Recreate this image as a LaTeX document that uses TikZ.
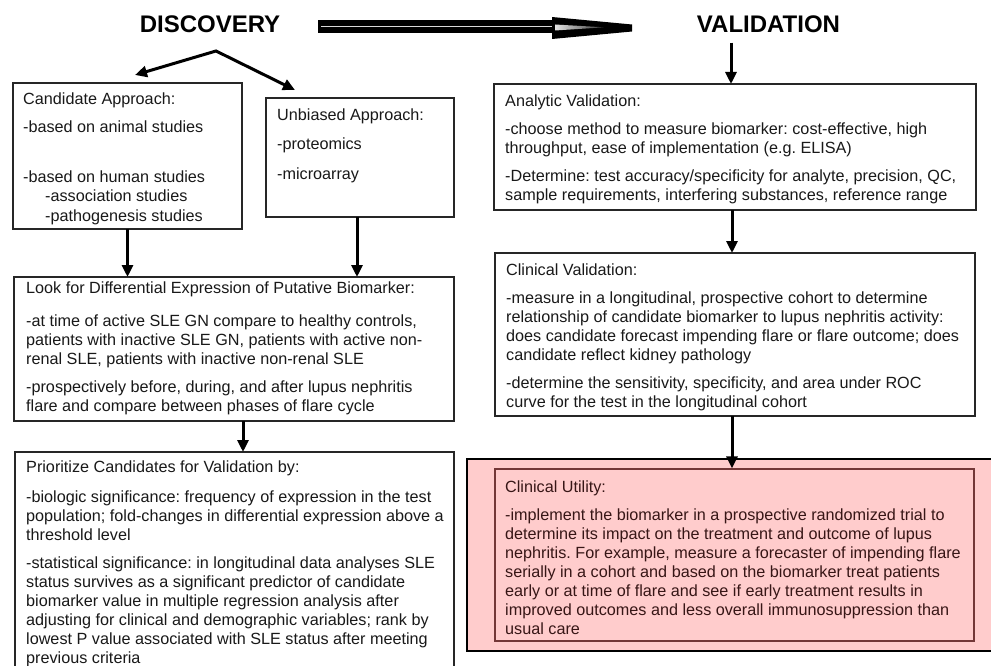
\documentclass[tikz,border=0pt]{standalone}
\usepackage{fontspec}
\setmainfont{Liberation Sans}
\usetikzlibrary{arrows.meta,calc}
\definecolor{pinkfill}{RGB}{255,204,204}
\definecolor{maroonline}{RGB}{115,55,55}
\definecolor{utiltext}{RGB}{55,22,22}
\newcommand\mystrut{\rule{0pt}{12pt}}
\frenchspacing
\begin{document}
\begin{tikzpicture}[x=1pt,y=-1pt,
  box/.style={draw=black!85,line width=1.2pt,inner sep=0pt,outer sep=0pt},
  txt/.style={anchor=north west,align=left,inner sep=0pt,text=black!90,font=\fontsize{16.2}{19}\selectfont},
  headtxt/.style={font=\fontsize{24}{28}\bfseries\selectfont,inner sep=0pt},
  conn/.style={line width=3pt,-{Triangle[length=12pt,width=11pt]}},
  dconn/.style={line width=3pt,line join=miter,{Triangle[length=12pt,width=11pt]}-{Triangle[length=12pt,width=11pt]}}]
\useasboundingbox (0,0) rectangle (991,666);
\fill[white] (0,0) rectangle (991,666);

% headings
\node[headtxt] (disc) at (210,24) {DISCOVERY};
\node[headtxt] (valid) at (768.5,24) {VALIDATION};

% big hollow arrow between headings
\fill[black] (318,20.5) rectangle (556,33.5);
\draw[gray!30,line width=1.6pt] (321,26.5) -- (556,26.5);
\fill[black] (552,17) -- (632,24.5) -- (632,31.5) -- (552,39) -- cycle;
\shade[left color=gray!20,right color=black!80] (555,24.5) -- (604,27.3) -- (555,30.5) -- cycle;

% boxes
\node[box,minimum width=229pt,minimum height=146pt] (cand) at (127.5,156) {};
\node[box,minimum width=188pt,minimum height=119pt] (unb) at (360,157.5) {};
\node[box,minimum width=440pt,minimum height=144pt] (look) at (234,349) {};
\node[box,minimum width=439pt,minimum height=222pt] (prio) at (234.5,563) {};
\node[box,minimum width=482pt,minimum height=126pt] (anal) at (735,147) {};
\node[box,minimum width=480pt,minimum height=163pt] (clin) at (735,334.5) {};
\node[draw=black,line width=1.8pt,fill=pinkfill,inner sep=0pt,minimum width=528pt,minimum height=192pt] (utilout) at (731,555) {};
\node[draw=maroonline,line width=1.3pt,inner sep=0pt,minimum width=479pt,minimum height=172pt] (utilin) at (734.5,555) {};

% texts
\node[txt] (candt) at (23,92) {\mystrut Candidate Approach:\\[9pt]
-based on animal studies\\[31pt]
-based on human studies\\
\hspace*{22pt}-association studies\\[1pt]
\hspace*{22pt}-pathogenesis studies};

\node[txt] (unbt) at (277,108) {\mystrut Unbiased Approach:\\[10pt]
-proteomics\\[11pt]
-microarray};

\node[txt] (lookt) at (26,281) {\mystrut Look for Differential Expression of Putative Biomarker:\\[14pt]
-at time of active SLE GN compare to healthy controls,\\
patients with inactive SLE GN, patients with active non-\\
renal SLE, patients with inactive non-renal SLE\\[9pt]
-prospectively before, during, and after lupus nephritis\\
flare and compare between phases of flare cycle};

\node[txt] (priot) at (26,460) {\mystrut Prioritize Candidates for Validation by:\\[11pt]
-biologic significance: frequency of expression in the test\\
population; fold-changes in differential expression above a\\
threshold level\\[9pt]
-statistical significance: in longitudinal data analyses SLE\\
status survives as a significant predictor of candidate\\
biomarker value in multiple regression analysis after\\
adjusting for clinical and demographic variables; rank by\\
lowest P value associated with SLE status after meeting\\
previous criteria};

\node[txt] (analt) at (505,94) {\mystrut Analytic Validation:\\[9pt]
-choose method to measure biomarker: cost-effective, high\\
throughput, ease of implementation (e.g. ELISA)\\[9pt]
-Determine: test accuracy/specificity for analyte, precision, QC,\\
sample requirements, interfering substances, reference range};

\node[txt] (clint) at (506,263) {\mystrut Clinical Validation:\\[9pt]
-measure in a longitudinal, prospective cohort to determine\\
relationship of candidate biomarker to lupus nephritis activity:\\
does candidate forecast impending flare or flare outcome; does\\
candidate reflect kidney pathology\\[9pt]
-determine the sensitivity, specificity, and area under ROC\\
curve for the test in the longitudinal cohort};

\node[txt,text=utiltext] (utilt) at (505,480) {\mystrut Clinical Utility:\\[9pt]
-implement the biomarker in a prospective randomized trial to\\
determine its impact on the treatment and outcome of lupus\\
nephritis. For example, measure a forecaster of impending flare\\
serially in a cohort and based on the biomarker treat patients\\
early or at time of flare and see if early treatment results in\\
improved outcomes and less overall immunosuppression than\\
usual care};

% connectors
\coordinate (apex) at (216,51);
\coordinate (ltip) at (135,75);
\coordinate (rtip) at (295,90);
\draw[dconn] (ltip) -- (apex) -- (rtip);

\draw[conn] (cand.south) -- (cand.south |- look.north);
\draw[conn] ([xshift=-3pt]unb.south) -- ([xshift=-3pt]unb.south |- look.north);
\draw[conn] ([xshift=9pt]look.south) -- ([xshift=9pt]look.south |- prio.north);
\draw[conn] ([xshift=-4pt,yshift=-10pt]anal.north |- valid.south) -- ([xshift=-4pt]anal.north);
\draw[conn] ([xshift=-3pt]anal.south) -- ([xshift=-3pt]anal.south |- clin.north);
\draw[conn] ([xshift=-3pt]clin.south) -- ([xshift=-3pt]clin.south |- utilin.north);
\end{tikzpicture}
\end{document}
